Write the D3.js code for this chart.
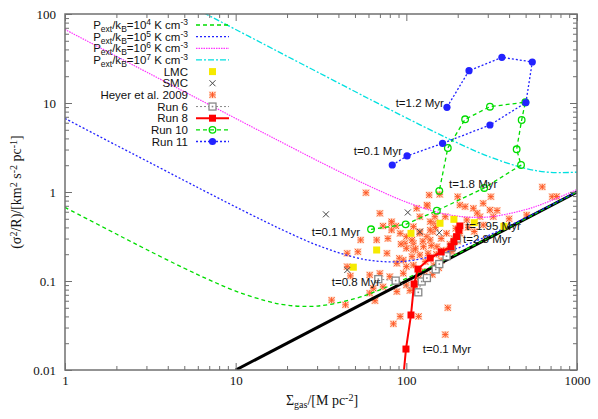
<!DOCTYPE html>
<html>
<head>
<meta charset="utf-8">
<script src="https://cdn.jsdelivr.net/npm/d3@7"></script>
<style>
body { margin: 0; background: #fff; }
svg { display: block; }
</style>
</head>
<body>
<svg id="chart" width="598" height="419"></svg>
<script>

const sigmaGrid = [1, 2, 3, 5, 7, 10, 15, 20, 30, 50, 70, 100, 150, 200, 300, 500, 700, 1000];
const pe4Values = [0.671, 0.337, 0.226, 0.139, 0.103, 0.077, 0.060, 0.0535, 0.0523, 0.0634, 0.0796, 0.107, 0.155, 0.203, 0.302, 0.501, 0.701, 1.0];
const pe5Values = [6.70, 3.35, 2.24, 1.345, 0.964, 0.68, 0.462, 0.355, 0.253, 0.184, 0.166, 0.167, 0.195, 0.234, 0.322, 0.513, 0.710, 1.007];
const pe6Values = [67, 33.5, 22.3, 13.4, 9.58, 6.71, 4.48, 3.37, 2.26, 1.39, 1.03, 0.77, 0.597, 0.535, 0.523, 0.634, 0.796, 1.067];
const pe7Values = [670, 335, 223, 134, 95.7, 67, 44.7, 33.5, 22.4, 13.45, 9.64, 6.8, 4.62, 3.55, 2.53, 1.84, 1.66, 1.67];

// self-gravity only line
const gravityLine = [[10, 0.01], [1000, 1]];

const lmcPoints = [[48.9, 0.143], [67, 0.223], [106.5, 0.343], [157.5, 0.445], [190, 0.493], [250, 0.452], [373, 0.412]];
const smcPoints = [[33.8, 0.561], [102, 0.589], [45.1, 0.133], [120, 0.358], [156, 0.349]];

const heyerPoints = [
    [58, 0.98], [136, 0.925], [157, 0.94], [200, 0.886], [313, 0.886], [626, 1.14], [716, 0.886], [760, 0.89],
    [70, 0.576], [133, 0.696], [132, 0.714], [115, 0.656], [206, 0.714], [221, 0.684], [247, 0.656], [282, 0.746],
    [309, 0.628], [270, 0.528], [323, 0.528], [507, 0.552], [144, 0.445], [82, 0.445], [73, 0.415], [87, 0.415],
    [120, 0.358], [143, 0.358], [100, 0.315], [132, 0.315], [67, 0.289], [54, 0.289], [110, 0.265], [98, 0.265],
    [100, 0.233], [110, 0.223], [52, 0.213], [45, 0.205], [77, 0.205], [91, 0.180], [96, 0.172], [108, 0.188],
    [120, 0.196], [134, 0.205], [88, 0.158], [100, 0.145], [110, 0.151], [129, 0.165], [45, 0.145], [47, 0.114],
    [61, 0.117], [70, 0.122], [96, 0.122], [100, 0.090], [64, 0.083], [73, 0.086], [36.5, 0.061], [44, 0.054],
    [112, 0.086], [61, 0.073], [65.5, 0.060], [80, 0.112], [88, 0.076], [105, 0.078], [92, 0.040], [84, 0.033],
    [118, 0.040], [82, 0.464], [120, 0.528], [138, 0.464], [147, 0.528], [169, 0.528], [282, 0.426], [226, 0.485],
    [172, 0.343], [206, 0.343], [138, 0.374], [120, 0.343], [138, 0.289], [126, 0.243], [151, 0.243], [108, 0.289],
    [92, 0.343], [110, 0.408], [82, 0.374], [172, 0.223], [169, 0.025], [150, 0.20], [165, 0.22], [180, 0.26],
    [190, 0.30], [160, 0.17], [145, 0.15], [200, 0.28], [175, 0.19], [185, 0.215], [160, 0.30], [140, 0.25],
    [175, 0.050], [128, 0.128], [142, 0.118], [155, 0.14], [118, 0.107], [230, 0.40], [250, 0.36], [195, 0.39],
    [125, 0.28], [113, 0.23], [148, 0.40], [260, 0.58], [340, 0.62], [400, 0.50], [93, 0.26], [78, 0.30]
];

const run6Points = [[68.5, 0.105], [86.6, 0.101], [117.5, 0.0746], [123, 0.0987], [132, 0.108], [148.6, 0.135], [156, 0.155], [172, 0.19], [185, 0.24], [198, 0.30]];
const run8Points = [[94.5, 0.006], [99.5, 0.0172], [106.5, 0.0415], [111, 0.0925], [117, 0.136], [138, 0.181], [160, 0.212], [183, 0.243], [190, 0.276], [197, 0.315], [203, 0.374], [206, 0.415]];
const run10Points = [[62.1, 0.381], [99.1, 0.433], [151, 0.617], [286, 1.11], [470, 2.01], [443, 3.02], [474, 6.44], [498, 10.2], [309, 9.09], [221, 6.56], [175, 3.12], [156, 1.03]];
const run11Points = [[82.7, 2.01], [101, 2.54], [163, 3.52], [309, 5.66], [502, 10.1], [547, 28.9], [363, 32.6], [233, 23.1], [173, 8.95]];

const timeLabels = [
    { x: 166, y: 10.0, text: 't=1.2 Myr', anchor: 'end' },
    { x: 94.3, y: 2.89, text: 't=0.1 Myr', anchor: 'end' },
    { x: 178, y: 1.23, text: 't=1.8 Myr', anchor: 'start' },
    { x: 53.5, y: 0.355, text: 't=0.1 Myr', anchor: 'end' },
    { x: 70.1, y: 0.0975, text: 't=0.8 Myr', anchor: 'end' },
    { x: 224, y: 0.412, text: 't=1.95 Myr', anchor: 'start' },
    { x: 215, y: 0.300, text: 't=2.8 Myr', anchor: 'start' },
    { x: 125, y: 0.0172, text: 't=0.1 Myr', anchor: 'start' }
];

const xTickLabels = [1, 10, 100, 1000];
const yTickLabels = [0.01, 0.1, 1, 10, 100];


const svg = d3.select('#chart'),
    plotLeft = 65,
    plotRight = 577,
    plotTop = 14,
    plotBottom = 370,
    sans = "'Liberation Sans', Arial, sans-serif",
    serif = "'Liberation Serif', 'Times New Roman', serif";

const x = d3.scaleLog().domain([1, 1000]).range([plotLeft, plotRight]);
const y = d3.scaleLog().domain([0.01, 100]).range([plotBottom, plotTop]);

svg.append('defs')
    .append('clipPath')
    .attr('id', 'plot-clip')
    .append('rect')
    .attr('x', plotLeft)
    .attr('y', plotTop)
    .attr('width', plotRight - plotLeft)
    .attr('height', plotBottom - plotTop);

const plot = svg.append('g').attr('clip-path', 'url(#plot-clip)');

const line = d3.line()
    .x(d => x(d[0]))
    .y(d => y(d[1]));

const smooth = d3.line()
    .x(d => x(d[0]))
    .y(d => y(d[1]))
    .curve(d3.curveCatmullRom.alpha(0.5));

const pressureCurves = [
    { values: pe4Values, color: '#00dd00', dash: '4,3', width: 1.3 },
    { values: pe5Values, color: '#2222ff', dash: '2,2', width: 1.3 },
    { values: pe6Values, color: '#ff33ff', dash: '1.5,1', width: 1.2 },
    { values: pe7Values, color: '#00e0e0', dash: '6,2,2,2', width: 1.3 }
];

const styles = {
    run6: { color: '#888888', dash: '2,2', width: 1 },
    run8: { color: '#ff0000', dash: null, width: 2 },
    run10: { color: '#00dd00', dash: '4,3', width: 1.3 },
    run11: { color: '#2222ff', dash: '2,2', width: 1.3 }
};


// Heyer et al. 2009 clouds
draw_heyer(plot.append('g'), heyerPoints);

// Gravity-only line
plot.append('path')
    .datum(gravityLine)
    .attr('d', line)
    .attr('fill', 'none')
    .attr('stroke', 'black')
    .attr('stroke-width', 3);

// Pressure curves
pressureCurves.forEach(c => {
    plot.append('path')
        .datum(sigmaGrid.map((s, i) => [s, c.values[i]]))
        .attr('d', smooth)
        .attr('fill', 'none')
        .attr('stroke', c.color)
        .attr('stroke-width', c.width)
        .attr('stroke-dasharray', c.dash);
});

// Magellanic clouds
draw_lmc(plot.append('g'), lmcPoints);
draw_smc(plot.append('g'), smcPoints);

// Runs
draw_run(plot.append('g'), run6Points, styles.run6, 'opensquare');
draw_run(plot.append('g'), run8Points, styles.run8, 'square');
draw_run(plot.append('g'), run10Points, styles.run10, 'opencircle');
draw_run(plot.append('g'), run11Points, styles.run11, 'circle');

// Time labels
svg.append('g')
    .selectAll('text')
    .data(timeLabels)
    .enter()
    .append('text')
    .attr('x', d => x(d.x))
    .attr('y', d => y(d.y))
    .attr('dy', '0.35em')
    .attr('text-anchor', d => d.anchor)
    .attr('font-family', sans)
    .attr('font-size', 11.5)
    .attr('fill', '#111')
    .text(d => d.text);

draw_axes();
draw_legend();


function is_major (d) {
    let l = Math.log10(d);
    return Math.abs(l - Math.round(l)) < 1e-9;
}

function draw_axes () {

    let xt = x.ticks(),
        yt = y.ticks();

    let gb = svg.append('g')
        .attr('transform', 'translate(0,' + plotBottom + ')')
        .call(d3.axisBottom(x).tickValues(xt).tickSizeInner(-4).tickSizeOuter(0).tickPadding(6)
            .tickFormat(d => xTickLabels.includes(d) ? String(d) : ''));

    let gt = svg.append('g')
        .attr('transform', 'translate(0,' + plotTop + ')')
        .call(d3.axisTop(x).tickValues(xt).tickSizeInner(-4).tickSizeOuter(0).tickFormat(''));

    let gl = svg.append('g')
        .attr('transform', 'translate(' + plotLeft + ',0)')
        .call(d3.axisLeft(y).tickValues(yt).tickSizeInner(-4).tickSizeOuter(0).tickPadding(9)
            .tickFormat(d => yTickLabels.includes(d) ? String(d) : ''));

    let gr = svg.append('g')
        .attr('transform', 'translate(' + plotRight + ',0)')
        .call(d3.axisRight(y).tickValues(yt).tickSizeInner(-4).tickSizeOuter(0).tickFormat(''));

    gb.selectAll('.tick line').attr('y2', d => is_major(d) ? -7 : -4);
    gt.selectAll('.tick line').attr('y2', d => is_major(d) ? 7 : 4);
    gl.selectAll('.tick line').attr('x2', d => is_major(d) ? 7 : 4);
    gr.selectAll('.tick line').attr('x2', d => is_major(d) ? -7 : -4);

    [gb, gt, gl, gr].forEach(g => {
        g.select('.domain').remove();
        g.selectAll('.tick line').attr('stroke', '#707070').attr('stroke-width', 1);
        g.selectAll('text')
            .attr('font-family', serif)
            .attr('font-size', 13)
            .attr('fill', '#111');
    });

    // Frame
    svg.append('rect')
        .attr('x', plotLeft)
        .attr('y', plotTop)
        .attr('width', plotRight - plotLeft)
        .attr('height', plotBottom - plotTop)
        .attr('fill', 'none')
        .attr('stroke', '#707070')
        .attr('stroke-width', 1.5);

    // Axis titles
    let xl = svg.append('text')
        .attr('x', 322)
        .attr('y', 405)
        .attr('text-anchor', 'middle')
        .attr('font-family', serif)
        .attr('font-size', 14)
        .attr('fill', '#111');
    rich_text(xl, [{ t: 'Σ' }, { t: 'gas', s: 'sub' }, { t: '/[M pc' }, { t: '-2', s: 'sup' }, { t: ']' }], 10);

    let yl = svg.append('text')
        .attr('transform', 'translate(21,192) rotate(-90)')
        .attr('text-anchor', 'middle')
        .attr('font-family', serif)
        .attr('font-size', 14)
        .attr('fill', '#111');
    rich_text(yl, [{ t: '(σ' }, { t: '2', s: 'sup' }, { t: '/R)/[km' }, { t: '2', s: 'sup' }, { t: ' s' },
        { t: '-2', s: 'sup' }, { t: ' pc' }, { t: '-1', s: 'sup' }, { t: ']' }], 10);

}

function rich_text (text, parts, small) {
    parts.forEach(p => {
        let ts = text.append('tspan').text(p.t);
        if (p.s === 'sup') ts.attr('baseline-shift', '45%').attr('font-size', small);
        if (p.s === 'sub') ts.attr('baseline-shift', '-30%').attr('font-size', small);
    });
}

function star (g, px, py, r, color) {
    g.append('path')
        .attr('d', 'M' + (px - r) + ',' + py + 'H' + (px + r) +
            'M' + px + ',' + (py - r) + 'V' + (py + r) +
            'M' + (px - r) + ',' + (py - r) + 'L' + (px + r) + ',' + (py + r) +
            'M' + (px - r) + ',' + (py + r) + 'L' + (px + r) + ',' + (py - r))
        .attr('stroke', color)
        .attr('stroke-width', 1)
        .attr('fill', 'none');
}

function draw_heyer (g, data) {
    data.forEach(d => {
        let px = x(d[0]), py = y(d[1]);
        g.append('rect')
            .attr('x', px - 3.5)
            .attr('y', py - 3.5)
            .attr('width', 7)
            .attr('height', 7)
            .attr('fill', '#ffbf9f')
            .attr('opacity', 0.6);
        star(g, px, py, 3, '#ff5a28');
    });
}

function draw_lmc (g, data) {
    g.selectAll('rect')
        .data(data)
        .enter()
        .append('rect')
        .attr('x', d => x(d[0]) - 3.5)
        .attr('y', d => y(d[1]) - 3.5)
        .attr('width', 7)
        .attr('height', 7)
        .attr('fill', '#f6ea00');
}

function cross (g, px, py, r, color) {
    g.append('path')
        .attr('d', 'M' + (px - r) + ',' + (py - r) + 'L' + (px + r) + ',' + (py + r) +
            'M' + (px - r) + ',' + (py + r) + 'L' + (px + r) + ',' + (py - r))
        .attr('stroke', color)
        .attr('stroke-width', 1)
        .attr('fill', 'none');
}

function draw_smc (g, data) {
    data.forEach(d => cross(g, x(d[0]), y(d[1]), 3, '#444'));
}

function marker (g, px, py, kind, color) {

    switch (kind) {

        case 'opensquare':
            g.append('rect')
                .attr('x', px - 3.5).attr('y', py - 3.5)
                .attr('width', 7).attr('height', 7)
                .attr('fill', 'white')
                .attr('stroke', color)
                .attr('stroke-width', 1.3);
            g.append('rect')
                .attr('x', px - 0.8).attr('y', py - 0.8)
                .attr('width', 1.6).attr('height', 1.6)
                .attr('fill', color);
            break;

        case 'square':
            g.append('rect')
                .attr('x', px - 3.5).attr('y', py - 3.5)
                .attr('width', 7).attr('height', 7)
                .attr('fill', color);
            break;

        case 'opencircle':
            g.append('circle')
                .attr('cx', px).attr('cy', py).attr('r', 3.3)
                .attr('fill', 'none')
                .attr('stroke', color)
                .attr('stroke-width', 1.3);
            break;

        case 'circle':
            g.append('circle')
                .attr('cx', px).attr('cy', py).attr('r', 3.6)
                .attr('fill', color);
            break;

    }

}

function draw_run (g, data, style, kind) {

    g.append('path')
        .datum(data)
        .attr('d', line)
        .attr('fill', 'none')
        .attr('stroke', style.color)
        .attr('stroke-width', style.width)
        .attr('stroke-dasharray', style.dash);

    data.forEach(d => marker(g, x(d[0]), y(d[1]), kind, style.color));

}

function draw_legend () {

    let g = svg.append('g'),
        textRight = 188,
        x0 = 196,
        x1 = 229,
        y0 = 25,
        dy = 11.65;

    let pLabel = n => [{ t: 'P' }, { t: 'ext', s: 'sub' }, { t: '/k' }, { t: 'B', s: 'sub' }, { t: '=10' },
        { t: n, s: 'sup' }, { t: ' K cm' }, { t: '-3', s: 'sup' }];

    let items = [
        { parts: pLabel('4'), style: pressureCurves[0] },
        { parts: pLabel('5'), style: pressureCurves[1] },
        { parts: pLabel('6'), style: pressureCurves[2] },
        { parts: pLabel('7'), style: pressureCurves[3] },
        { parts: [{ t: 'LMC' }], sym: 'lmc' },
        { parts: [{ t: 'SMC' }], sym: 'smc' },
        { parts: [{ t: 'Heyer et al. 2009' }], sym: 'heyer' },
        { parts: [{ t: 'Run 6' }], style: styles.run6, marker: 'opensquare' },
        { parts: [{ t: 'Run 8' }], style: styles.run8, marker: 'square' },
        { parts: [{ t: 'Run 10' }], style: styles.run10, marker: 'opencircle' },
        { parts: [{ t: 'Run 11' }], style: styles.run11, marker: 'circle' }
    ];

    items.forEach((item, i) => {

        let yy = y0 + i * dy;

        let t = g.append('text')
            .attr('x', textRight)
            .attr('y', yy)
            .attr('dy', '0.35em')
            .attr('text-anchor', 'end')
            .attr('font-family', sans)
            .attr('font-size', 11.5)
            .attr('fill', '#111');
        rich_text(t, item.parts, 8.5);

        let xm = (x0 + x1) / 2;

        if (item.style) {
            g.append('line')
                .attr('x1', x0).attr('x2', x1)
                .attr('y1', yy).attr('y2', yy)
                .attr('stroke', item.style.color)
                .attr('stroke-width', item.style.width)
                .attr('stroke-dasharray', item.style.dash);
            if (item.marker) marker(g, xm, yy, item.marker, item.style.color);
        } else if (item.sym === 'lmc') {
            g.append('rect')
                .attr('x', xm - 3.5).attr('y', yy - 3.5)
                .attr('width', 7).attr('height', 7)
                .attr('fill', '#f6ea00');
        } else if (item.sym === 'smc') {
            cross(g, xm, yy, 3, '#444');
        } else if (item.sym === 'heyer') {
            g.append('rect')
                .attr('x', xm - 3.5).attr('y', yy - 3.5)
                .attr('width', 7).attr('height', 7)
                .attr('fill', '#ffbf9f')
                .attr('opacity', 0.6);
            star(g, xm, yy, 3, '#ff5a28');
        }

    });

}

</script>
</body>
</html>
